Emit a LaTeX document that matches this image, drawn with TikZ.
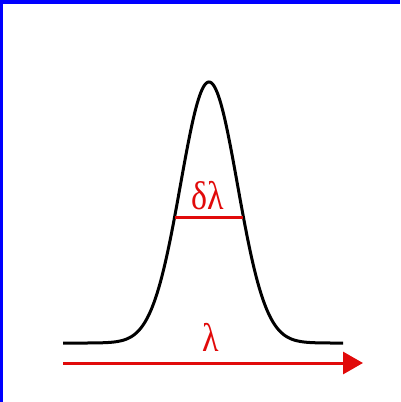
\documentclass[tikz,border=0pt]{standalone}
\usepackage{fontspec}
\newfontfamily\greekfont{Liberation Serif}
\usetikzlibrary{arrows.meta}
\definecolor{lred}{RGB}{225,10,10}
\definecolor{bord}{RGB}{0,0,255}
\tikzset{
  curve/.style={line width=3pt, black},
  redline/.style={line width=3pt, lred},
  lab/.style={text=lred, font=\greekfont\fontsize{40}{42}\selectfont, inner sep=0pt, xscale=0.85}
}
\begin{document}
\begin{tikzpicture}[x=1pt,y=-1pt]
\useasboundingbox (0,0) rectangle (400,402);
\fill[white] (0,0) rectangle (400,402);
\fill[bord] (0,0) rectangle (400,4);
\fill[bord] (0,0) rectangle (3,402);
\draw[curve, line join=round] plot[domain=63:343, samples=241, smooth] (\x, {343-261*exp(-0.5*((\x-209)/28.5)^2)});
\coordinate (hl) at (174.6,217);
\coordinate (hr) at (243.4,217);
\draw[redline] (hl) -- (hr);
\node[lab, anchor=base] (dl) at (208,209) {δλ};
\coordinate (a0) at (63,363);
\coordinate (a1) at (363,363);
\draw[redline, -{Triangle[length=20pt,width=22pt]}] (a0) -- (a1);
\node[lab, anchor=base] (l) at (211,351) {λ};
\end{tikzpicture}
\end{document}
